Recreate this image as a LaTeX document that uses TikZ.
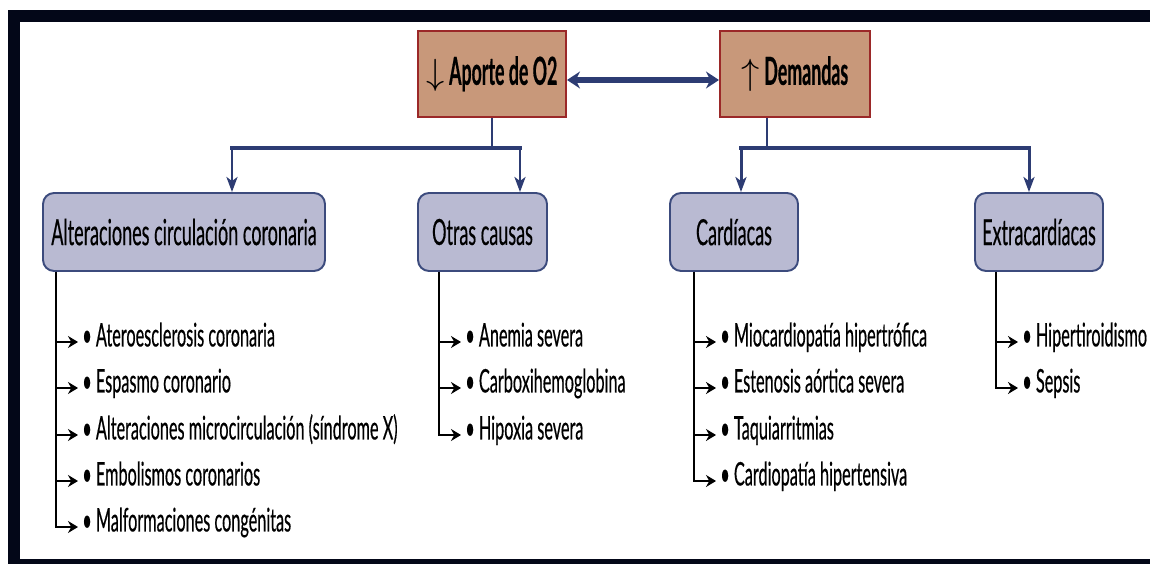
\documentclass[tikz,border=0pt]{standalone}
\usepackage{fontspec}
\setmainfont{Lato}[FakeStretch=0.5, FakeBold=0.4, BoldFeatures={FakeStretch=0.46}]
\usetikzlibrary{arrows.meta}

\definecolor{tanfill}{RGB}{200,152,122}
\definecolor{tanline}{RGB}{155,40,40}
\definecolor{lilfill}{RGB}{185,186,210}
\definecolor{lilline}{RGB}{60,75,125}
\definecolor{navy}{RGB}{45,60,115}
\definecolor{framecol}{RGB}{3,7,24}

\tikzset{
	topbox/.style={draw=tanline, fill=tanfill, line width=1.2pt, inner xsep=2pt, minimum width=2.96cm, minimum height=1.72cm, font=\fontsize{22}{26}\selectfont\bfseries},
	catbox/.style={draw=lilline, fill=lilfill, line width=1.1pt, rounded corners=0.22cm, inner xsep=3pt, minimum height=1.56cm, font=\fontsize{20.5}{24}\selectfont},
	causa/.style={anchor=west, inner xsep=0.08cm, inner ysep=0pt, text height=1.3ex, text depth=0.3ex, font=\fontsize{18.5}{22}\selectfont},
	busline/.style={navy, line width=2.8pt, line cap=rect},
	stemline/.style={navy, line width=1.5pt},
	dropline/.style={navy, line width=1.7pt, -{Stealth[length=0.3cm, width=0.22cm, inset=0.08cm]}},
	linkarrow/.style={navy, line width=3pt, {Stealth[length=0.26cm, width=0.34cm]}-{Stealth[length=0.26cm, width=0.34cm]}},
	listarrow/.style={black, line width=1.1pt, -{Stealth[length=0.2cm, width=0.24cm]}},
}

\begin{document}
\begin{tikzpicture}[x=0.02cm, y=-0.02cm]
	\useasboundingbox (0,0) rectangle (1150,564);
	\clip (0,0) rectangle (1150,564);
	\draw[framecol, line width=0.24cm] (1150,16) -- (14,16) -- (14,565) -- (1150,565);

	% top level
	\node[topbox] (aporte) at (492,74) {$\downarrow$ Aporte de O2};
	\node[topbox, minimum width=3cm] (demandas) at (795,74) {$\uparrow$ Demandas};
	\draw[linkarrow] ([yshift=-0.12cm]aporte.east) -- ([yshift=-0.12cm]demandas.west);

	% second level
	\node[catbox, minimum width=5.64cm] (alt) at (184,232) {Alteraciones circulación coronaria};
	\node[catbox, minimum width=2.58cm] (otras) at (482.5,232) {Otras causas};
	\node[catbox, minimum width=2.56cm] (card) at (734,232) {Cardíacas};
	\node[catbox, minimum width=2.56cm] (extra) at (1039,232) {Extracardíacas};

	\coordinate (bl) at (232,148);
	\coordinate (br) at (520,148);
	\coordinate (cl) at (741,148);
	\coordinate (cr) at (1029,148);
	\draw[stemline] (aporte.south) -- (aporte.south |- bl);
	\draw[stemline] ([xshift=-0.56cm]demandas.south) -- ([xshift=-0.56cm]demandas.south |- cl);
	\draw[busline] (bl) -- (br);
	\draw[busline] (cl) -- (cr);
	\draw[dropline] (bl) -- (bl |- alt.north);
	\draw[dropline] (br) -- (br |- otras.north);
	\draw[dropline] (cl) -- (cl |- card.north);
	\draw[dropline] (cr) -- (cr |- extra.north);

	% lists
	\node[causa] (a1) at (78,342) {• Ateroesclerosis coronaria};
	\node[causa] (a2) at (78,388) {• Espasmo coronario};
	\node[causa] (a3) at (78,435) {• Alteraciones microcirculación (síndrome X)};
	\node[causa] (a4) at (78,481) {• Embolismos coronarios};
	\node[causa] (a5) at (78,527) {• Malformaciones congénitas};

	\node[causa] (o1) at (461,342) {• Anemia severa};
	\node[causa] (o2) at (461,388) {• Carboxihemoglobina};
	\node[causa] (o3) at (461,435) {• Hipoxia severa};

	\node[causa] (c1) at (716,342) {• Miocardiopatía hipertrófica};
	\node[causa] (c2) at (716,388) {• Estenosis aórtica severa};
	\node[causa] (c3) at (716,435) {• Taquiarritmias};
	\node[causa] (c4) at (716,481) {• Cardiopatía hipertensiva};

	\node[causa] (e1) at (1018,342) {• Hipertiroidismo};
	\node[causa] (e2) at (1018,388) {• Sepsis};

	\foreach \i in {a1,a2,a3,a4,a5}
		\draw[listarrow] ([xshift=0.28cm]alt.south west) |- (\i.west);
	\foreach \i in {o1,o2,o3}
		\draw[listarrow] ([xshift=0.44cm]otras.south west) |- (\i.west);
	\foreach \i in {c1,c2,c3,c4}
		\draw[listarrow] ([xshift=0.5cm]card.south west) |- (\i.west);
	\foreach \i in {e1,e2}
		\draw[listarrow] ([xshift=0.44cm]extra.south west) |- (\i.west);
\end{tikzpicture}
\end{document}
